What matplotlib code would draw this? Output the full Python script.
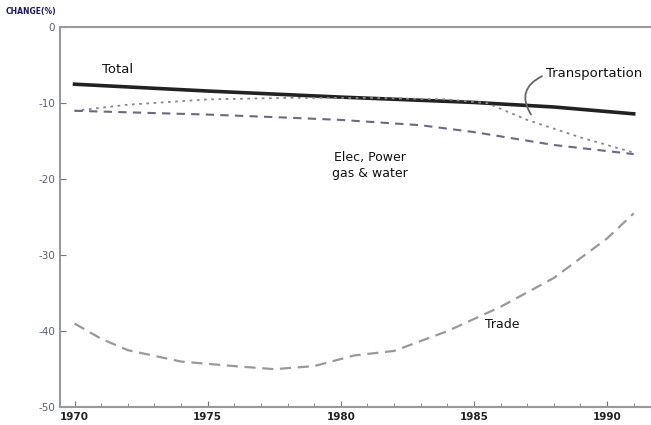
import numpy as np
import matplotlib.pyplot as plt

plt.rcParams['axes.unicode_minus'] = False

# datos
anios_total = [1970, 1975, 1980, 1985, 1988, 1991]
total = [-7.5, -8.4, -9.2, -9.9, -10.5, -11.4]

anios_transp = [1970, 1972, 1975, 1978, 1981, 1984, 1985.5, 1987, 1989, 1991]
transporte = [-11.0, -10.2, -9.5, -9.3, -9.3, -9.5, -10.0, -12.2, -14.5, -16.5]

anios_elec = [1970, 1973, 1975, 1978, 1980, 1983, 1985, 1988, 1991]
elec = [-11.0, -11.3, -11.5, -11.9, -12.2, -12.9, -13.8, -15.5, -16.7]

anios_trade = [1970, 1971, 1972, 1974, 1976, 1977.5, 1979, 1980.5, 1982, 1984, 1986, 1988, 1990, 1991]
trade = [-39.0, -41.0, -42.5, -44.0, -44.6, -45.0, -44.6, -43.2, -42.6, -40.0, -36.8, -33.0, -27.8, -24.5]

ticks_x = [1970, 1975, 1980, 1985, 1990]
ticks_y = [0, -10, -20, -30, -40, -50]

fig = plt.figure(figsize=(6.51, 4.25), dpi=100)
ax = fig.add_axes([0.092, 0.042, 0.908, 0.894])

ax.plot(anios_total, total, color='#222222', lw=2.6)
ax.plot(anios_transp, transporte, color='#888888', lw=1.3, ls=(0, (1.5, 2.5)))
ax.plot(anios_elec, elec, color='#6a6a80', lw=1.5, ls=(0, (4, 3)))
ax.plot(anios_trade, trade, color='#999999', lw=1.6, ls=(0, (5, 3)))

ax.set_xlim(1969.45, 1991.65)
ax.set_ylim(-50, 0)

ax.set_xticks(ticks_x)
ax.set_xticks(np.arange(1970, 1992), minor=True)
ax.set_yticks(ticks_y)
ax.tick_params(axis='both', direction='in', colors='#777777', length=4, labelsize=7.5)
ax.tick_params(axis='x', labelcolor='#222222')
ax.tick_params(axis='y', labelcolor='#556070')
ax.tick_params(axis='x', which='minor', direction='in', colors='#777777', length=3)
for lab in ax.get_xticklabels():
    lab.set_fontweight('bold')

for lado in ['left', 'bottom', 'top']:
    ax.spines[lado].set_color('#999999')
    ax.spines[lado].set_linewidth(1.5)
ax.spines['right'].set_visible(False)

fig.text(0.008, 0.967, 'CHANGE(%)', fontsize=5.5, fontweight='bold', color='#1a1a5a')

ax.text(1971.05, -6.0, 'Total', fontsize=9.5, color='#111111')
ax.text(1987.7, -6.6, 'Transportation', fontsize=9.5, color='#111111')
ax.text(1981.1, -18.2, 'Elec, Power\ngas & water', fontsize=9, color='#111111',
        ha='center', va='center', linespacing=1.3)
ax.text(1985.4, -39.6, 'Trade', fontsize=9, color='#111111')

ax.annotate('', xy=(1987.2, -11.8), xytext=(1987.65, -6.3),
            arrowprops=dict(arrowstyle='-', color='#666666', lw=1.3,
                            connectionstyle='arc3,rad=0.6'))

fig.savefig('out.png', dpi=100)
